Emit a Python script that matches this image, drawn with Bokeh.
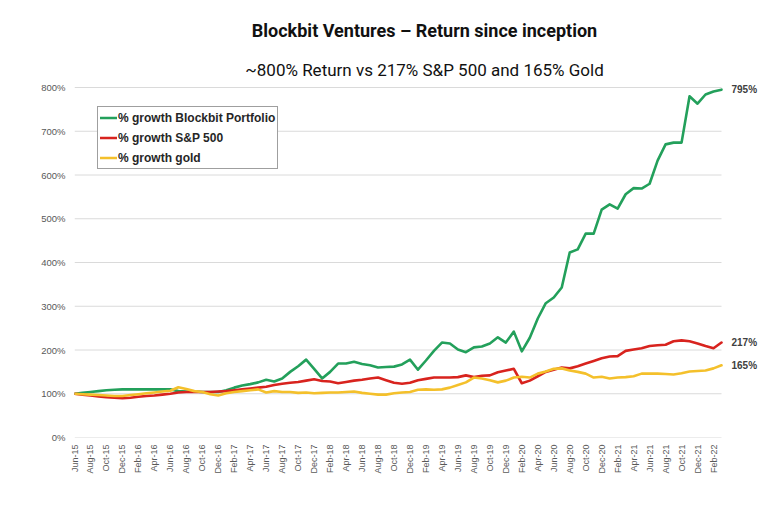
import math
from bokeh.plotting import figure
from bokeh.models import Range1d, Label, Legend, LegendItem, FixedTicker, Title
from bokeh.embed import file_html
from bokeh.resources import INLINE

# ---------------- data ----------------
month_names = ["Jan", "Feb", "Mar", "Apr", "May", "Jun",
               "Jul", "Aug", "Sep", "Oct", "Nov", "Dec"]
months = []
for k in range(82):  # Jun-15 .. Mar-22
    m = (5 + k) % 12
    yr = 15 + (5 + k) // 12
    months.append(f"{month_names[m]}-{yr:02d}")

blockbit = [100, 102, 104, 106, 108, 109, 110, 110, 110, 110,
            110, 110, 110, 106, 105, 105, 104, 104, 104, 108,
            114, 119, 122, 126, 132, 128, 135, 150, 163, 178,
            157, 135, 150, 169, 169, 173, 168, 165, 160, 161,
            162, 167, 178, 155, 176, 198, 217, 215, 201, 195,
            206, 208, 215, 229, 217, 242, 197, 228, 272, 307,
            320, 343, 423, 430, 466, 466, 521, 533, 523, 556,
            570, 569, 580, 633, 670, 674, 674, 780, 763, 784,
            791, 795]

sp500 = [100, 98, 96, 94, 92, 91, 90, 91, 93, 95,
         96, 98, 100, 103, 104, 104, 104, 104, 105, 106,
         108, 110, 112, 114, 116, 120, 123, 125, 127, 130,
         133, 129, 128, 124, 127, 130, 132, 135, 137, 131,
         125, 123, 125, 131, 134, 137, 137, 137, 138, 142,
         138, 141, 142, 149, 153, 157, 124, 130, 140, 150,
         155, 160, 158, 163, 169, 175, 181, 185, 186, 198,
         201, 204, 209, 211, 212, 220, 222, 220, 215, 209,
         204, 217]

gold = [100, 99, 98, 97, 96, 95, 95, 97, 99, 101,
        103, 105, 107, 115, 111, 106, 104, 99, 96, 101,
        104, 106, 108, 110, 103, 106, 104, 104, 102, 103,
        101, 102, 103, 103, 104, 105, 102, 100, 98, 98,
        101, 103, 104, 109, 110, 109, 110, 114, 120, 126,
        137, 135, 131, 126, 130, 137, 139, 137, 146, 151,
        157, 158, 153, 150, 146, 137, 139, 135, 137, 138,
        140, 146, 146, 146, 145, 144, 147, 151, 152, 153,
        158, 165]

series_names = ["% growth Blockbit Portfolio", "% growth S&P 500", "% growth gold"]
series_colors = ["#23A05B", "#D8231E", "#F4C02B"]
y_ticks = [0, 100, 200, 300, 400, 500, 600, 700, 800]

title_text = "Blockbit Ventures \u2013 Return since inception"
subtitle_text = "~800% Return vs 217% S&P 500 and 165% Gold"

# ---------------- figure ----------------
n = len(months)
xs = list(range(n))
# frame: 700px wide, the data (0..n-1) takes the left 647px, the rest holds end labels
x_end = (n - 1) * 700 / 647
# frame: 355px tall, 800% sits 5px below its top so end labels are not clipped
y_end = 800 * 355 / 350

p = figure(width=782, height=509, output_backend="svg", toolbar_location=None,
           x_range=Range1d(0, x_end), y_range=Range1d(0, y_end),
           min_border_left=74, min_border_right=8,
           min_border_top=82, min_border_bottom=72)
p.outline_line_color = None
p.background_fill_color = "white"
p.border_fill_color = "white"

# horizontal gridlines limited to the data extent
yt = FixedTicker(ticks=y_ticks)
p.yaxis.ticker = yt
p.ygrid.grid_line_color = None
p.xgrid.grid_line_color = None
p.segment(x0=[0] * len(y_ticks), x1=[n - 1] * len(y_ticks), y0=y_ticks, y1=y_ticks,
          line_color="#DADADA", line_width=1)

# y axis
p.yaxis.major_label_overrides = {v: f"{v}%" for v in y_ticks}
p.yaxis.axis_line_color = None
p.yaxis.major_tick_line_color = None
p.yaxis.minor_tick_line_color = None
p.yaxis.major_tick_out = 0
p.yaxis.major_tick_in = 0
p.yaxis.major_label_standoff = 9
p.yaxis.major_label_text_font = "Liberation Sans"
p.yaxis.major_label_text_font_size = "9.5px"
p.yaxis.major_label_text_color = "#595959"

# x axis
xticks = list(range(0, n, 2))
p.xaxis.ticker = FixedTicker(ticks=xticks)
p.xaxis.major_label_overrides = {i: months[i] for i in xticks}
p.xaxis.major_label_orientation = math.pi / 2
p.xaxis.axis_line_color = None
p.xaxis.major_tick_line_color = None
p.xaxis.minor_tick_line_color = None
p.xaxis.major_tick_out = 0
p.xaxis.major_tick_in = 0
p.xaxis.major_label_standoff = 7
p.xaxis.major_label_text_font = "Liberation Sans"
p.xaxis.major_label_text_font_size = "9px"
p.xaxis.major_label_text_color = "#595959"

# lines
renderers = []
for vals, col in zip([blockbit, sp500, gold], series_colors):
    r = p.line(xs, vals, line_color=col, line_width=2.6,
               line_join="round", line_cap="round")
    renderers.append(r)

# end labels
for vals in [blockbit, sp500, gold]:
    p.add_layout(Label(x=n - 1, y=vals[-1], x_offset=10, text=f"{vals[-1]}%",
                       text_font="Liberation Sans", text_font_size="10px",
                       text_font_style="bold", text_color="#404040",
                       text_baseline="middle", text_align="left"))

# legend
legend = Legend(items=[LegendItem(label=nm, renderers=[r])
                       for nm, r in zip(series_names, renderers)],
                location=(23, 268), orientation="vertical",
                padding=2, spacing=3, margin=0,
                glyph_width=17, glyph_height=17, label_height=17,
                label_standoff=1,
                label_text_font="Liberation Sans", label_text_font_size="12px",
                label_text_font_style="bold", label_text_color="#262626",
                border_line_color="#404040", border_line_width=1,
                background_fill_color="white", background_fill_alpha=1.0)
p.add_layout(legend)

# titles (subtitle closest to the frame, main title above it)
p.add_layout(Title(text=subtitle_text, align="center", text_font="Roboto",
                   text_font_size="17px", text_font_style="normal",
                   text_color="#111111", standoff=5), "above")
p.add_layout(Title(text=title_text, align="center", text_font="Roboto",
                   text_font_size="18px", text_font_style="bold",
                   text_color="#111111", standoff=30), "above")

open("out.html", "w").write(file_html(p, INLINE))
